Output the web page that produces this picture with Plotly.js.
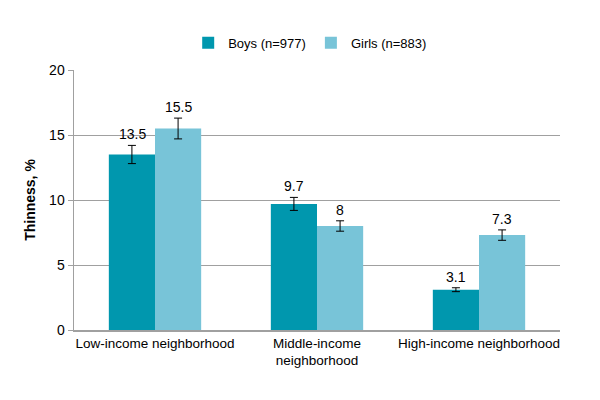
<!DOCTYPE html>
<html>
<head>
<meta charset="utf-8">
<script src="https://cdn.plot.ly/plotly-3.0.1.min.js"></script>
<style>html,body{margin:0;padding:0;background:#fff}#chart{width:600px;height:400px}</style>
</head>
<body>
<div id="chart"></div>
<script>
var categories = ["Low-income neighborhood", "Middle-income<br>neighborhood", "High-income neighborhood"];
var boysValues = [13.5, 9.7, 3.1];
var boysErrors = [0.7, 0.5, 0.15];
var girlsValues = [15.5, 8.0, 7.3];
var girlsErrors = [0.8, 0.4, 0.4];
var boysName = "Boys (n=977)";
var girlsName = "Girls (n=883)";
var yTicks = [0, 5, 10, 15, 20];

var font = "Liberation Sans, Arial, sans-serif";
var barPx = 46;

function mk(name, vals, errs, color) {
  return {
    type: "bar", name: name, x: categories, y: vals,
    marker: {color: color},
    error_y: {type: "data", array: errs, visible: true, color: "#000", thickness: 1, width: 4},
    hoverinfo: "skip"
  };
}

var annotations = [];
function addLabels(vals, errs, shift) {
  for (var i = 0; i < vals.length; i++) {
    annotations.push({
      x: categories[i], y: vals[i] + errs[i], xref: "x", yref: "y",
      text: String(vals[i]), showarrow: false, yanchor: "bottom",
      xshift: shift, yshift: 1,
      font: {family: font, size: 14, color: "#000"}
    });
  }
}
addLabels(boysValues, boysErrors, -barPx / 2);
addLabels(girlsValues, girlsErrors, barPx / 2);

var layout = {
  width: 600, height: 400,
  margin: {l: 74, r: 40, t: 70, b: 70},
  paper_bgcolor: "#fff", plot_bgcolor: "#fff",
  barmode: "group", bargap: 0.43, bargroupgap: 0,
  font: {family: font, size: 13.5, color: "#000"},
  showlegend: true,
  legend: {orientation: "h", x: 0.486, xanchor: "center", y: 1.105, yanchor: "middle",
           font: {family: font, size: 13, color: "#000"}, traceorder: "normal"},
  xaxis: {type: "category", showline: true, linecolor: "#A0A0A0", linewidth: 1.5,
          ticks: "", tickfont: {family: font, size: 13.5, color: "#000"}, fixedrange: true},
  yaxis: {range: [0, 20], tickvals: yTicks, showgrid: true, gridcolor: "#A0A0A0", gridwidth: 1,
          showline: true, linecolor: "#A0A0A0", linewidth: 1.5, ticks: "outside", ticklen: 5, tickcolor: "#A0A0A0",
          zeroline: false,
          tickfont: {family: font, size: 14, color: "#000"},
          title: {text: "<b>Thinness, %</b>", font: {family: font, size: 14, color: "#000"}, standoff: 10}},
  annotations: annotations
};

Plotly.newPlot("chart", [mk(boysName, boysValues, boysErrors, "#0097AE"), mk(girlsName, girlsValues, girlsErrors, "#78C4D8")], layout, {displayModeBar: false, staticPlot: true});
</script>
</body>
</html>
